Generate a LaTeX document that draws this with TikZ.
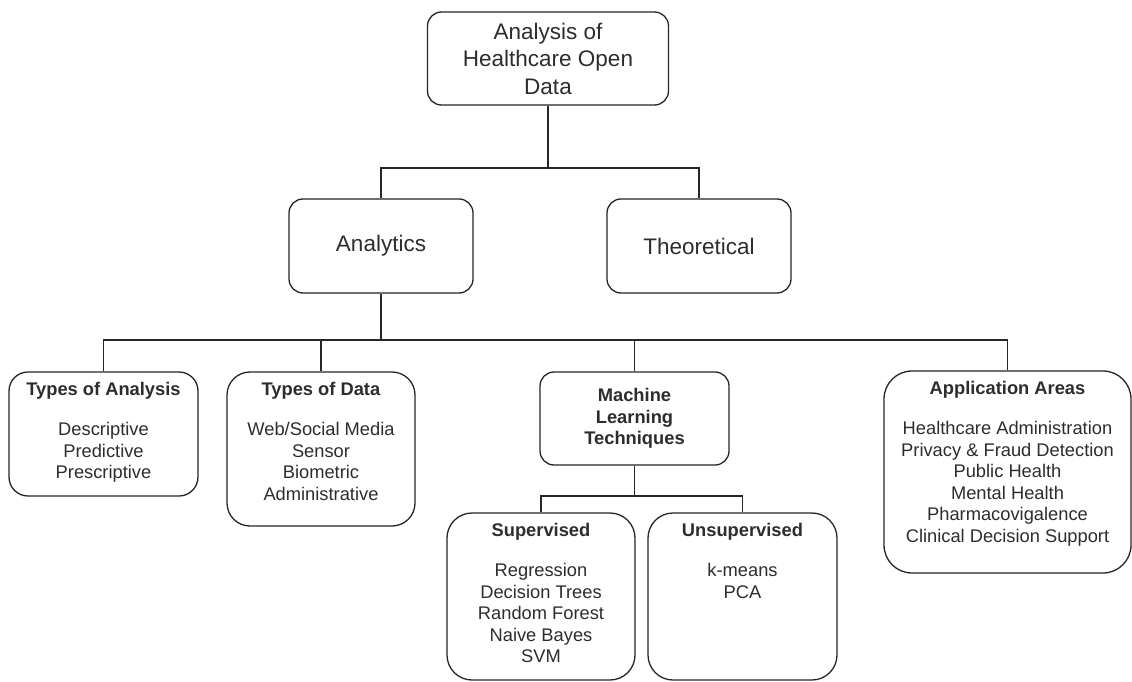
\documentclass[tikz,border=0pt]{standalone}
\usepackage{fontspec}
\setmainfont{Liberation Sans}
\definecolor{linec}{RGB}{38,38,38}
\definecolor{textc}{RGB}{45,45,45}
\begin{document}
\begin{tikzpicture}[x=1pt,y=-1pt,
  box/.style={draw=linec, line width=1.3pt, rounded corners=#1, inner sep=0pt, fill=white},
  box/.default=14pt,
  bigtext/.style={font=\fontsize{22.5}{27.5}\selectfont, align=center, text=textc, inner sep=0pt},
  smalltext/.style={font=\fontsize{18.3}{21.5}\selectfont, align=center, text=textc, inner sep=0pt},
  conn/.style={draw=linec, line width=1.3pt}]
\useasboundingbox[fill=white] (0,0) rectangle (1132,682);

% top level
\node[box, minimum width=241pt, minimum height=93pt, bigtext] (root) at (548,58.5)
  {Analysis of\\Healthcare Open\\Data};
\node[box, minimum width=184pt, minimum height=94pt, bigtext] (ana) at (381,246) {Analytics};
\node[box, minimum width=184pt, minimum height=94pt, bigtext] (theo) at (699,246) {Theoretical};

% second level
\node[box=19pt, minimum width=189pt, minimum height=124pt] (ta) at (103.5,434) {};
\node[smalltext, anchor=north] (ta-t) at ([yshift=-11pt]ta.north)
  {\textbf{Types of Analysis}\\[18.5pt]Descriptive\\Predictive\\Prescriptive};

\node[box=23pt, minimum width=188pt, minimum height=154pt] (td) at (321,449) {};
\node[smalltext, anchor=north] (td-t) at ([yshift=-11pt]td.north)
  {\textbf{Types of Data}\\[18.5pt]Web/Social Media\\Sensor\\Biometric\\Administrative};

\node[box=14pt, minimum width=189pt, minimum height=93pt, smalltext, font=\fontsize{18.3}{21.5}\selectfont\bfseries] (ml) at (634.5,418.5)
  {Machine\\Learning\\Techniques};

\node[box=28pt, minimum width=247pt, minimum height=202pt] (aa) at (1007.5,472) {};
\node[smalltext, anchor=north] (aa-t) at ([yshift=-11pt]aa.north)
  {\textbf{Application Areas}\\[18.5pt]Healthcare Administration\\Privacy \& Fraud Detection\\Public Health\\Mental Health\\Pharmacovigalence\\Clinical Decision Support};

% machine learning branches
\node[box=25pt, minimum width=188pt, minimum height=167pt] (sup) at (541,596.5) {};
\node[smalltext, anchor=north] (sup-t) at ([yshift=-11pt]sup.north)
  {\textbf{Supervised}\\[18.5pt]Regression\\Decision Trees\\Random Forest\\Naive Bayes\\SVM};

\node[box=25pt, minimum width=189pt, minimum height=167pt] (uns) at (742.5,596.5) {};
\node[smalltext, anchor=north] (uns-t) at ([yshift=-11pt]uns.north)
  {\textbf{Unsupervised}\\[18.5pt]k-means\\PCA};

% junctions of the tree
\coordinate (j1) at (548,168);
\coordinate (j2) at (381,340);
\coordinate (j3) at (634.5,496);

% connectors
\draw[conn] (root.south) -- (j1);
\draw[conn] (ana.north) |- (j1) -| (theo.north);
\draw[conn] (ana.south) -- (j2);
\draw[conn] (ta.north) |- (j2) -| (aa.north);
\draw[conn] (td.north) -- (td.north |- j2);
\draw[conn] (ml.north) -- (ml.north |- j2);
\draw[conn] (ml.south) -- (j3);
\draw[conn] (sup.north) |- (j3) -| (uns.north);
\end{tikzpicture}
\end{document}
